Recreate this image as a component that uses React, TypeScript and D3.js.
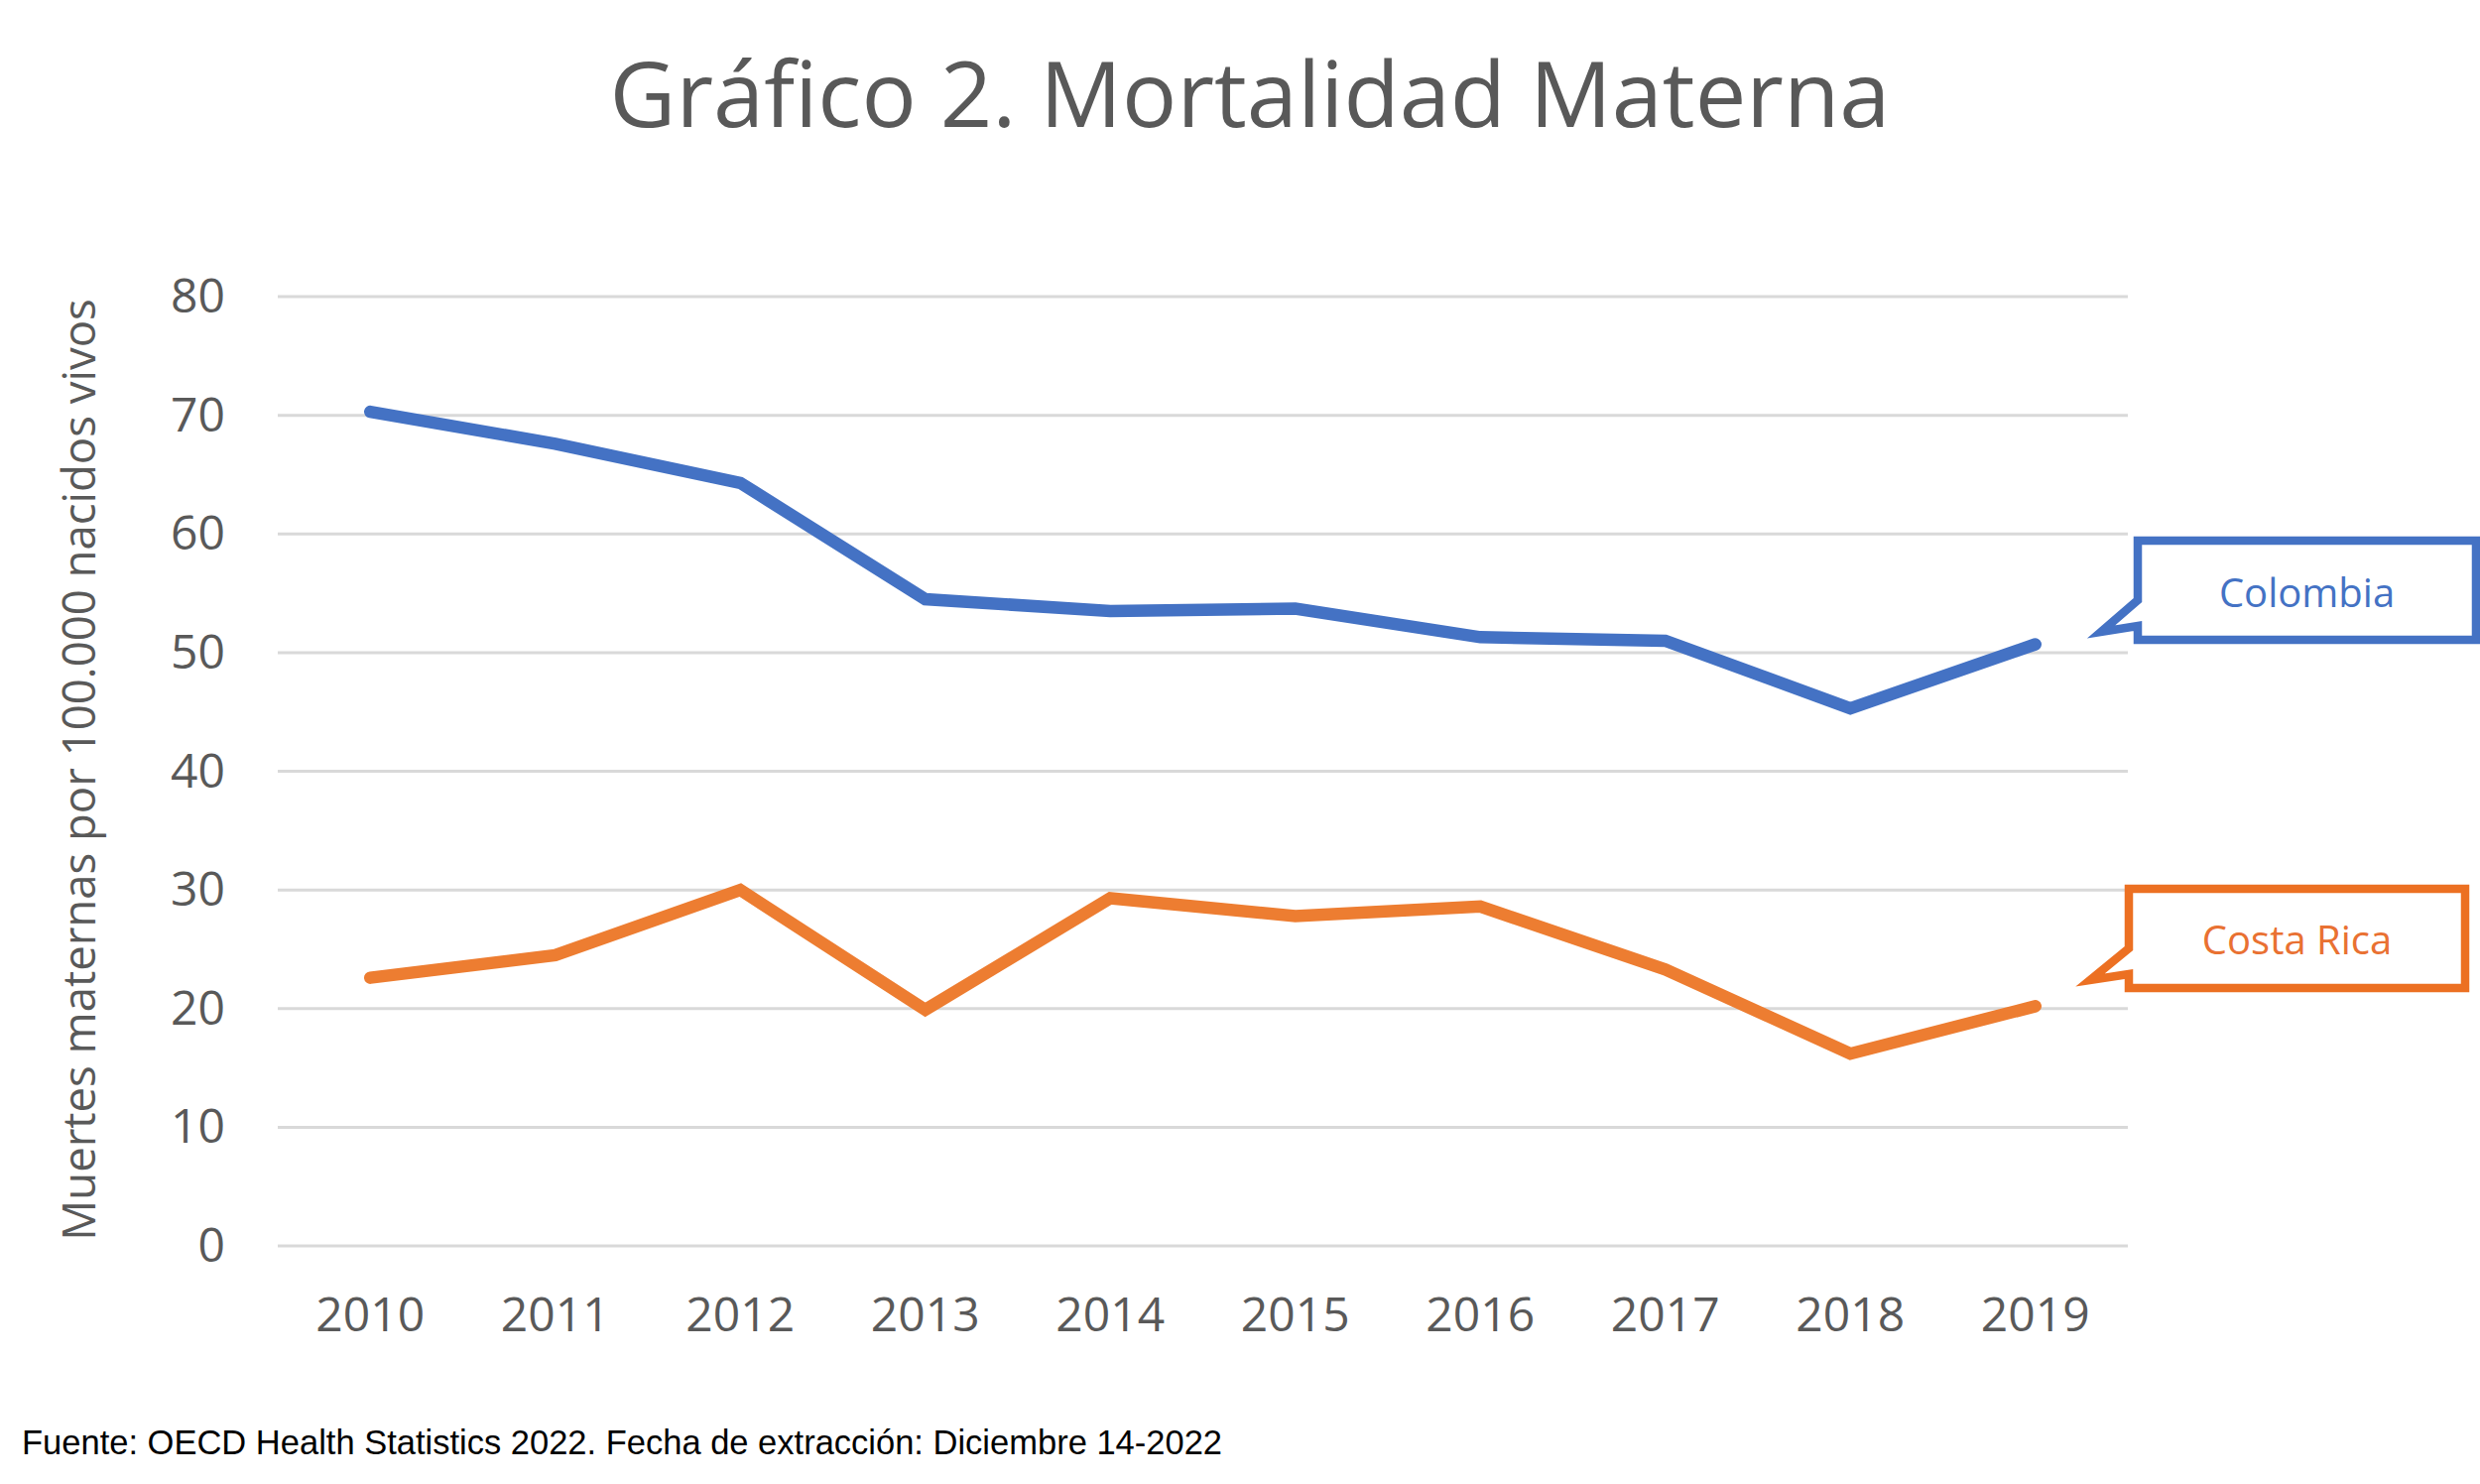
import React, { useRef, useEffect } from "react";
import * as d3 from "d3";

// 데이터
const years = ["2010", "2011", "2012", "2013", "2014", "2015", "2016", "2017", "2018", "2019"];
const colombia = [70.3, 67.6, 64.3, 54.5, 53.5, 53.7, 51.3, 51.0, 45.3, 50.7];
const costaRica = [22.6, 24.5, 30.0, 19.9, 29.3, 27.8, 28.6, 23.3, 16.2, 20.2];
const yTicks = [0, 10, 20, 30, 40, 50, 60, 70, 80];
const seriesNames = ["Colombia", "Costa Rica"];

const W = 2500;
const H = 1496;
const FONT = "'Open Sans', 'Noto Sans', sans-serif";
const BLUE = "#4472C4";
const ORANGE = "#ED7D31";

const App = () => {
  const ref = useRef<SVGSVGElement | null>(null);

  useEffect(() => {
    if (!ref.current) return;
    const svg = d3.select(ref.current);
    svg.selectAll("*").remove();

    const x = d3.scalePoint<string>().domain(years).range([280, 2145]).padding(0.5);
    const y = d3.scaleLinear().domain([0, 80]).range([1256, 299]);

    // 제목
    svg
      .append("text")
      .attr("x", 1260)
      .attr("y", 128)
      .attr("text-anchor", "middle")
      .style("font-family", FONT)
      .style("font-size", "92px")
      .style("fill", "#595959")
      .text("Gráfico 2. Mortalidad Materna");

    // 그리드선
    svg
      .append("g")
      .selectAll("line")
      .data(yTicks)
      .enter()
      .append("line")
      .attr("x1", 280)
      .attr("x2", 2145)
      .attr("y1", (d) => y(d))
      .attr("y2", (d) => y(d))
      .attr("stroke", "#D9D9D9")
      .attr("stroke-width", 3);

    // y축 라벨
    svg
      .append("g")
      .selectAll("text")
      .data(yTicks)
      .enter()
      .append("text")
      .attr("x", 227)
      .attr("y", (d) => y(d) + 16)
      .attr("text-anchor", "end")
      .style("font-family", FONT)
      .style("font-size", "48px")
      .style("fill", "#595959")
      .text((d) => `${d}`);

    // x축 라벨
    svg
      .append("g")
      .selectAll("text")
      .data(years)
      .enter()
      .append("text")
      .attr("x", (d) => x(d) as number)
      .attr("y", 1342)
      .attr("text-anchor", "middle")
      .style("font-family", FONT)
      .style("font-size", "48px")
      .style("fill", "#595959")
      .text((d) => d);

    // y축 제목
    svg
      .append("text")
      .attr("transform", "translate(96,776) rotate(-90)")
      .attr("text-anchor", "middle")
      .style("font-family", FONT)
      .style("font-size", "45.5px")
      .style("fill", "#595959")
      .text("Muertes maternas por 100.000 nacidos vivos");

    // 선 그래프
    const line = d3
      .line<number>()
      .x((_, i) => x(years[i]) as number)
      .y((d) => y(d));

    [
      { values: colombia, color: BLUE },
      { values: costaRica, color: ORANGE },
    ].forEach((s) => {
      svg
        .append("path")
        .datum(s.values)
        .attr("d", line)
        .attr("fill", "none")
        .attr("stroke", s.color)
        .attr("stroke-width", 12.5)
        .attr("stroke-linecap", "round")
        .attr("stroke-linejoin", "miter");
    });

    // 말풍선 라벨
    const callouts = [
      { name: seriesNames[0], color: BLUE, text: "#4472C4", x0: 2155, x1: 2496, y0: 545, y1: 645, up: 605, low: 631, tip: [2118, 637], ty: 612 },
      { name: seriesNames[1], color: "#EC7022", text: "#E97132", x0: 2146, x1: 2485, y0: 896, y1: 996, up: 956, low: 982, tip: [2107, 988], ty: 962 },
    ];
    callouts.forEach((c) => {
      const p = d3.path();
      p.moveTo(c.x0, c.y0);
      p.lineTo(c.x1, c.y0);
      p.lineTo(c.x1, c.y1);
      p.lineTo(c.x0, c.y1);
      p.lineTo(c.x0, c.low);
      p.lineTo(c.tip[0], c.tip[1]);
      p.lineTo(c.x0, c.up);
      p.closePath();
      svg
        .append("path")
        .attr("d", p.toString())
        .attr("fill", "#fff")
        .attr("stroke", c.color)
        .attr("stroke-width", 8.5)
        .attr("stroke-linejoin", "miter")
        .attr("stroke-miterlimit", 10);
      svg
        .append("text")
        .attr("x", (c.x0 + c.x1) / 2)
        .attr("y", c.ty)
        .attr("text-anchor", "middle")
        .style("font-family", FONT)
        .style("font-size", "40px")
        .style("fill", c.text)
        .text(c.name);
    });

    // 출처
    svg
      .append("text")
      .attr("x", 22)
      .attr("y", 1466)
      .style("font-family", "'Liberation Sans', Arial, sans-serif")
      .style("font-size", "34.5px")
      .style("fill", "#000")
      .text("Fuente: OECD Health Statistics 2022. Fecha de extracción: Diciembre 14-2022");
  }, []);

  return (
    <svg
      ref={ref}
      width={W}
      height={H}
      viewBox={`0 0 ${W} ${H}`}
      style={{ position: "absolute", left: 0, top: 0, background: "#fff" }}
    />
  );
};

export default App;
